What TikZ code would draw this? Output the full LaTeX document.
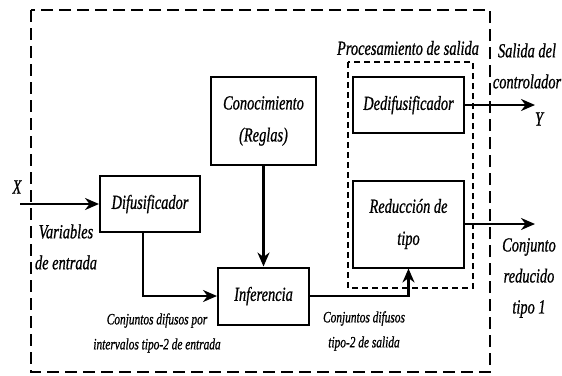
\documentclass[tikz,border=0pt]{standalone}
\usepackage{fontspec}
\setmainfont[FakeStretch=0.72, FakeBold=0.8]{Liberation Serif}
\usetikzlibrary{arrows.meta}

\tikzset{
  bloque/.style={draw, line width=1pt, align=center, font=\fontsize{10}{16}\selectfont\itshape},
  etiqueta/.style={align=center, font=\fontsize{10}{15.5}\selectfont\itshape},
  pequena/.style={align=center, font=\fontsize{7.9}{12.5}\selectfont\itshape},
  flecha/.style={line width=1.3pt, -{Stealth[length=7pt,width=6pt]}}
}

\begin{document}
\begin{tikzpicture}[x=0.5pt, y=-0.5pt]
    \useasboundingbox (0,0) rectangle (562,375);

    %Cajas
    \draw[line width=0.9pt, dash pattern=on 6pt off 3pt] (31,10) rectangle (490,372);
    \draw[line width=0.9pt, dash pattern=on 3pt off 2pt] (348,62) rectangle (473,288);

    %Bloques
    \node[bloque, minimum width=52.5pt, minimum height=44pt] (conoc) at (263.5,121) {Conocimiento\\(Reglas)};
    \node[bloque, minimum width=50pt, minimum height=28pt] (difus) at (150,204) {Difusificador};
    \node[bloque, minimum width=45.5pt, minimum height=28.5pt] (infer) at (263.5,296) {Inferencia};
    \node[bloque, minimum width=55.5pt, minimum height=28pt] (dedif) at (408.5,105) {Dedifusificador};
    \node[bloque, minimum width=55.5pt, minimum height=43.5pt] (reduc) at (408.5,224) {Reducci\'on de\\tipo};

    %Entradas y salidas
    \coordinate (entX) at (20,204);
    \coordinate (salY) at (535,105);
    \coordinate (salR) at (535,224);

    %Flechas
    \draw[flecha] (entX) -- (difus.west);
    \draw[flecha] ([xshift=-3.5pt]difus.south) |- (infer.west);
    \draw[flecha] (conoc) -- (infer);
    \draw[flecha] (infer.east) -| (reduc.south);
    \draw[flecha] (dedif.east) -- (salY);
    \draw[flecha] (reduc.east) -- (salR);

    %Textos
    \node[etiqueta] (x) at (17,187) {X};
    \node[etiqueta] (y) at (539,119) {Y};
    \node[etiqueta] (varent) at (66,247) {Variables\\de entrada};
    \node[etiqueta] (proc) at (408,48) {Procesamiento de salida};
    \node[etiqueta] (salctl) at (527,66) {Salida del\\controlador};
    \node[etiqueta] (conjred) at (529,278) {Conjunto\\reducido\\tipo 1};
    \node[pequena] (conjent) at (157,333) {Conjuntos difusos por\\intervalos tipo-2 de entrada};
    \node[pequena] (conjsal) at (364,331) {Conjuntos difusos\\tipo-2 de salida};
\end{tikzpicture}
\end{document}
